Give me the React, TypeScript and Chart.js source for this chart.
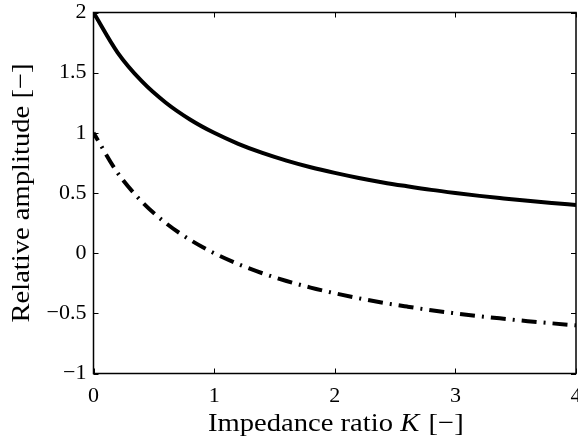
import React, { useEffect, useRef } from "react";
import { Chart, registerables } from "chart.js";

Chart.register(...registerables);

const kValues = [0, 0.2, 0.4, 0.6, 0.8, 1, 1.2, 1.4, 1.6, 1.8, 2, 2.2, 2.4, 2.6, 2.8, 3, 3.2, 3.4, 3.6, 3.8, 4];
const transmitted = [2, 1.667, 1.429, 1.25, 1.111, 1, 0.909, 0.833, 0.769, 0.714, 0.667, 0.625, 0.588, 0.556, 0.526, 0.5, 0.476, 0.455, 0.435, 0.417, 0.4];
const reflected = [1, 0.667, 0.429, 0.25, 0.111, 0, -0.091, -0.167, -0.231, -0.286, -0.333, -0.375, -0.412, -0.444, -0.474, -0.5, -0.524, -0.545, -0.565, -0.583, -0.6];
const xTicks = [0, 1, 2, 3, 4];
const yTicks = [-1, -0.5, 0, 0.5, 1, 1.5, 2];
const xTitle = ["Impedance ratio ", "K", " [−]"];
const yTitle = "Relative amplitude [−]";

const FONT = "'Liberation Serif', 'DejaVu Serif', serif";
const TITLE_SIZE = 26;
const STRETCH = 1.1;

const framePlugin = {
  id: "frame",
  afterDraw(chart: any) {
    const { ctx, chartArea } = chart;
    const { left, right, top, bottom } = chartArea;
    const xs = chart.scales.x;
    const ys = chart.scales.y;
    ctx.save();
    ctx.strokeStyle = "#000";
    ctx.lineWidth = 1.5;
    ctx.strokeRect(left, top, right - left, bottom - top);
    ctx.lineWidth = 1;
    const t = 5;
    ctx.beginPath();
    xTicks.forEach((v) => {
      const px = Math.round(xs.getPixelForValue(v)) + 0.5;
      ctx.moveTo(px, bottom);
      ctx.lineTo(px, bottom - t);
      ctx.moveTo(px, top);
      ctx.lineTo(px, top + t);
    });
    yTicks.forEach((v) => {
      const py = Math.round(ys.getPixelForValue(v)) + 0.5;
      ctx.moveTo(left, py);
      ctx.lineTo(left + t, py);
      ctx.moveTo(right, py);
      ctx.lineTo(right - t, py);
    });
    ctx.stroke();

    // x title with italic K
    ctx.fillStyle = "#000";
    ctx.textBaseline = "alphabetic";
    const normal = `${TITLE_SIZE}px ${FONT}`;
    const italic = `italic ${TITLE_SIZE}px ${FONT}`;
    ctx.font = normal;
    const w0 = ctx.measureText(xTitle[0]).width;
    const w2 = ctx.measureText(xTitle[2]).width;
    ctx.font = italic;
    const w1 = ctx.measureText(xTitle[1]).width;
    const total = (w0 + w1 + w2) * STRETCH;
    const cx = (left + right) / 2;
    ctx.save();
    ctx.translate(cx - total / 2, 431);
    ctx.scale(STRETCH, 1);
    let x = 0;
    ctx.textAlign = "left";
    ctx.font = normal;
    ctx.fillText(xTitle[0], x, 0);
    x += w0;
    ctx.font = italic;
    ctx.fillText(xTitle[1], x, 0);
    x += w1 + 2;
    ctx.font = normal;
    ctx.fillText(xTitle[2], x, 0);
    ctx.restore();

    // y title
    ctx.save();
    ctx.translate(29, (top + bottom) / 2);
    ctx.rotate(-Math.PI / 2);
    ctx.scale(STRETCH, 1);
    ctx.textAlign = "center";
    ctx.font = normal;
    ctx.fillText(yTitle, 0, 0);
    ctx.restore();
    ctx.restore();
  },
};

export default function App() {
  const ref = useRef<HTMLCanvasElement>(null);
  useEffect(() => {
    document.body.style.margin = "0";
    const chart = new Chart(ref.current!, {
      type: "line",
      data: {
        datasets: [
          {
            data: kValues.map((k, i) => ({ x: k, y: transmitted[i] })),
            borderColor: "#000",
            borderWidth: 4,
            pointRadius: 0,
            cubicInterpolationMode: "monotone",
            fill: false,
          },
          {
            data: kValues.map((k, i) => ({ x: k, y: reflected[i] })),
            borderColor: "#000",
            borderWidth: 4,
            borderDash: [15, 7, 2, 7],
            borderDashOffset: 6,
            pointRadius: 0,
            cubicInterpolationMode: "monotone",
            fill: false,
          },
        ],
      },
      options: {
        responsive: false,
        animation: false,
        layout: { padding: { top: 12.5, right: 2, left: 0, bottom: 0 } },
        plugins: { legend: { display: false }, tooltip: { enabled: false } },
        scales: {
          x: {
            type: "linear",
            min: 0,
            max: 4,
            afterBuildTicks: (s: any) => {
              s.ticks = xTicks.map((v) => ({ value: v }));
            },
            afterFit: (s: any) => {
              s.height = 64.5;
              s.paddingLeft = 0;
              s.paddingRight = 0;
            },
            grid: { display: false, drawTicks: false },
            border: { display: false },
            ticks: {
              color: "#000",
              font: { family: FONT, size: 22 },
              padding: 10,
              maxRotation: 0,
              autoSkip: false,
              callback: (v: any) => String(v).replace("-", "−"),
            },
          },
          y: {
            type: "linear",
            min: -1,
            max: 2,
            afterBuildTicks: (s: any) => {
              s.ticks = yTicks.map((v) => ({ value: v }));
            },
            afterFit: (s: any) => {
              s.width = 93.5;
              s.paddingTop = 0;
              s.paddingBottom = 0;
            },
            grid: { display: false, drawTicks: false },
            border: { display: false },
            ticks: {
              color: "#000",
              font: { family: FONT, size: 22 },
              padding: 7,
              autoSkip: false,
              callback: (v: any) => String(v).replace("-", "−"),
            },
          },
        },
      },
      plugins: [framePlugin],
    } as any);
    return () => chart.destroy();
  }, []);
  return <canvas ref={ref} width={578} height={438} style={{ display: "block" }} />;
}
